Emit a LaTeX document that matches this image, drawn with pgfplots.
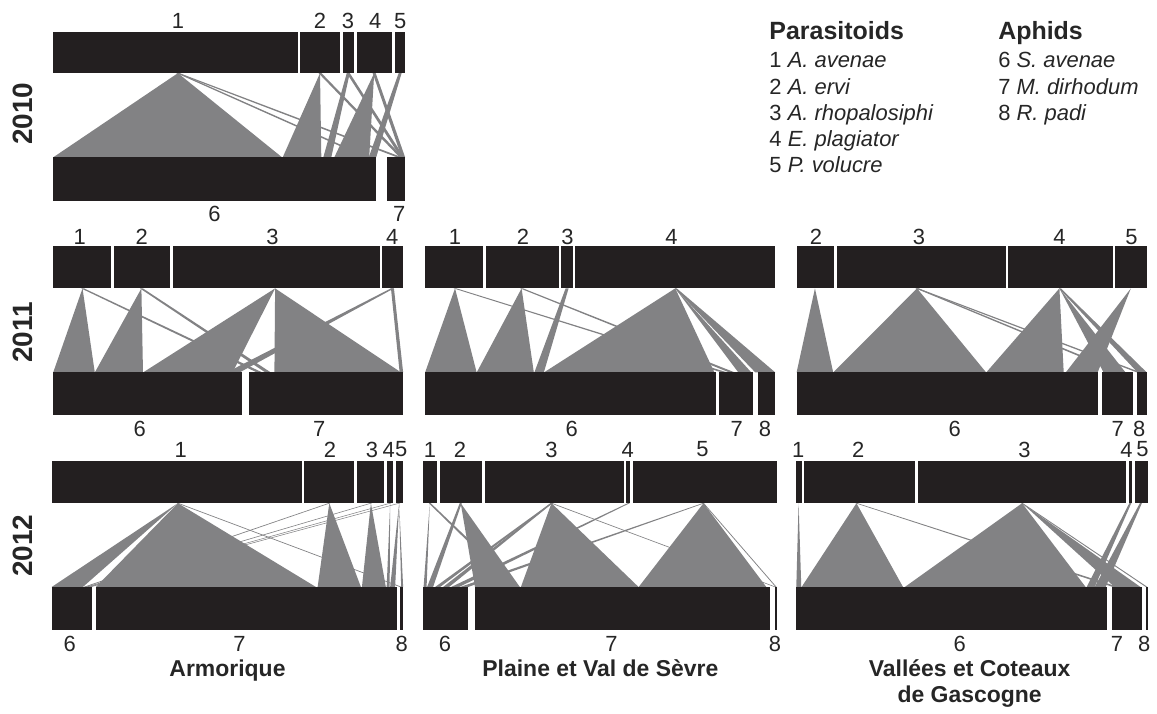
\documentclass[border=0pt]{standalone}
\usepackage{pgfplots}
\pgfplotsset{compat=1.18}
\usepackage{fontspec}
\setmainfont{Liberation Sans}
\definecolor{barc}{RGB}{35,31,32}
\definecolor{linkc}{RGB}{130,130,132}
% bars: x1 x2 (rows fixed)
\newcommand{\bA}[2]{\addplot[fill=barc,draw=none] coordinates {(#1,31.7) (#2,31.7) (#2,73.3) (#1,73.3)};}
\newcommand{\cA}[2]{\addplot[fill=barc,draw=none] coordinates {(#1,157.7) (#2,157.7) (#2,201) (#1,201)};}
\newcommand{\bB}[2]{\addplot[fill=barc,draw=none] coordinates {(#1,246.7) (#2,246.7) (#2,289) (#1,289)};}
\newcommand{\cB}[2]{\addplot[fill=barc,draw=none] coordinates {(#1,373.3) (#2,373.3) (#2,415.7) (#1,415.7)};}
\newcommand{\bC}[2]{\addplot[fill=barc,draw=none] coordinates {(#1,461.7) (#2,461.7) (#2,504.3) (#1,504.3)};}
\newcommand{\cC}[2]{\addplot[fill=barc,draw=none] coordinates {(#1,588.3) (#2,588.3) (#2,631) (#1,631)};}
% links: top x1 x2, bottom x1 x2
\newcommand{\lA}[4]{\addplot[fill=linkc,draw=none] coordinates {(#1,73.3) (#2,73.3) (#4,157.7) (#3,157.7)};}
\newcommand{\lB}[4]{\addplot[fill=linkc,draw=none] coordinates {(#1,289) (#2,289) (#4,373.3) (#3,373.3)};}
\newcommand{\lC}[4]{\addplot[fill=linkc,draw=none] coordinates {(#1,504.3) (#2,504.3) (#4,588.3) (#3,588.3)};}
\newcommand{\lab}[3]{\node[font=\fontsize{11}{13}\selectfont,text=black!85] at (axis cs:#1,#2) {#3};}
\begin{document}
\begin{tikzpicture}
\begin{axis}[x=0.5pt,y=0.5pt,xmin=0,xmax=1157,ymin=0,ymax=711,y dir=reverse,
  hide axis,clip=false,scale only axis]
\path (axis cs:0,0) rectangle (axis cs:1157,711);
% ===== 2010 Armorique =====
\lA{178.3}{178.3}{53.3}{282.7}
\lA{176.8}{179.8}{398}{403}
\lA{176.8}{179.8}{366}{370}
\lA{320.7}{320.7}{283.3}{322}
\lA{319.2}{322.2}{400.5}{404}
\lA{347.5}{350.5}{324}{332}
\lA{347.5}{350.5}{401.5}{405}
\lA{375}{375}{335}{370}
\lA{373.5}{376.5}{402.5}{406}
\lA{399.5}{402.5}{369.5}{377}
\bA{53.3}{298.3} \bA{301}{340.7} \bA{343.3}{354.3} \bA{357.3}{393.3} \bA{396}{406}
\cA{53.3}{376.7} \cA{387.7}{406}
% ===== 2011 Armorique =====
\lB{82.7}{82.7}{53.3}{95}
\lB{81.2}{84.2}{257.5}{263}
\lB{141.7}{141.7}{95}{143.3}
\lB{140.2}{143.2}{266}{271.5}
\lB{275.7}{275.7}{143.3}{233}
\lB{275.7}{275.7}{275}{402}
\lB{391.8}{394.8}{227}{240}
\lB{391.8}{394.8}{400.5}{404}
\bB{53.3}{111} \bB{114.3}{170} \bB{173.3}{380.7} \bB{383.3}{404}
\cB{53.3}{242.3} \cB{250}{404}
% ===== 2011 Plaine =====
\lB{456}{456}{426}{477.7}
\lB{454.5}{457.5}{723.5}{729}
\lB{522.7}{522.7}{477.7}{535}
\lB{521.2}{524.2}{731}{736.5}
\lB{566.8}{569.8}{535.5}{545}
\lB{676.7}{676.7}{545}{716}
\lB{676.7}{676.7}{740}{753}
\lB{676.2}{678.2}{757}{777}
\bB{426}{484} \bB{486.7}{560} \bB{562.7}{574} \bB{576.7}{776.7}
\cB{426}{717.3} \cB{721}{755} \cB{759.3}{776.7}
% ===== 2011 Vallees =====
\lB{816.7}{816.7}{798.3}{835}
\lB{919}{919}{835}{988.3}
\lB{917.5}{920.5}{1120.5}{1125}
\lB{917.5}{920.5}{1139.5}{1143.5}
\lB{1061.7}{1061.7}{988.3}{1066}
\lB{1061.7}{1061.7}{1106}{1128}
\lB{1061.2}{1063.2}{1140}{1149.3}
\lB{1133.3}{1133.3}{1068}{1100}
\bB{798.3}{835.7} \bB{838.3}{1007.7} \bB{1010}{1115} \bB{1117.7}{1149.3}
\cB{798.3}{1100.7} \cB{1104.3}{1135.7} \cB{1139.3}{1149.3}
% ===== 2012 Armorique =====
\lC{178.3}{178.3}{51.7}{83}
\lC{178.3}{178.3}{96}{316.7}
\lC{177.3}{179.3}{401}{403}
\lC{329}{331}{83.5}{86}
\lC{330}{330}{318.3}{361.7}
\lC{370.7}{372.7}{85.5}{88}
\lC{371.7}{371.7}{362.7}{386.7}
\lC{390}{392}{87.5}{89.5}
\lC{391}{391}{387.5}{390.5}
\lC{399}{401}{89}{91.2}
\lC{400}{400}{391}{396}
\lC{400}{400}{402}{404}
\bC{51.7}{302.3} \bC{305}{355} \bC{357.7}{385} \bC{387.7}{394.3} \bC{396.7}{404}
\cC{51.7}{91.7} \cC{96}{397.7} \cC{401}{404}
% ===== 2012 Plaine =====
\lC{430.7}{430.7}{424.5}{427.5}
\lC{429.7}{431.7}{515.5}{520}
\lC{460.7}{462.7}{428}{434}
\lC{461.7}{461.7}{476}{521}
\lC{551.7}{553.7}{436}{441}
\lC{551.7}{553.7}{444}{450}
\lC{552.7}{552.7}{522}{640}
\lC{551.7}{553.7}{776.3}{778}
\lC{629}{631}{452}{460}
\lC{704}{706}{461}{469}
\lC{705}{705}{640}{768}
\lC{704.5}{705.5}{777.3}{778.3}
\bC{424.3}{437.7} \bC{440.7}{483.3} \bC{486}{625} \bC{627.3}{631.7} \bC{634.3}{778.3}
\cC{424.3}{469.3} \cC{475.7}{771.7} \cC{776.7}{778.3}
% ===== 2012 Vallees =====
\lC{800.3}{800.3}{798}{803}
\lC{858.3}{858.3}{803.3}{905}
\lC{857.3}{859.3}{1115.5}{1121}
\lC{1024.3}{1024.3}{906.7}{1088}
\lC{1024.3}{1024.3}{1117}{1143}
\lC{1023.5}{1025.1}{1148.3}{1150}
\lC{1131.7}{1133.7}{1089}{1097}
\lC{1142.3}{1144.3}{1097}{1108}
\bC{797.3}{803.3} \bC{806}{917.3} \bC{920}{1128.3} \bC{1131}{1134.3} \bC{1137.3}{1150}
\cC{797.3}{1109.3} \cC{1114.3}{1144.3} \cC{1148.3}{1150}
% ===== labels =====
\lab{178.3}{21}{1}\lab{320.7}{21}{2}\lab{348.7}{21}{3}\lab{376}{21}{4}\lab{401}{21}{5}
\lab{215}{214.5}{6}\lab{400}{214.5}{7}
\lab{80}{237.5}{1}\lab{142}{237.5}{2}\lab{273}{237.5}{3}\lab{393}{237.5}{4}
\lab{456}{237.5}{1}\lab{524}{237.5}{2}\lab{568.7}{237.5}{3}\lab{673}{237.5}{4}
\lab{817.7}{237.5}{2}\lab{921}{237.5}{3}\lab{1061.7}{237.5}{4}\lab{1134}{237.5}{5}
\lab{140}{429.5}{6}\lab{320}{429.5}{7}
\lab{573}{429.5}{6}\lab{738.3}{429.5}{7}\lab{766.7}{429.5}{8}
\lab{956.7}{429.5}{6}\lab{1120}{429.5}{7}\lab{1141.7}{429.5}{8}
\lab{181}{450.5}{1}\lab{330.7}{450.5}{2}\lab{372.7}{450.5}{3}\lab{389.5}{450.5}{4}\lab{402}{450.5}{5}
\lab{431}{450.5}{1}\lab{461}{450.5}{2}\lab{552.7}{450.5}{3}\lab{629}{450.5}{4}\lab{704}{450.5}{5}
\lab{800}{450.5}{1}\lab{860}{450.5}{2}\lab{1026.7}{450.5}{3}\lab{1129}{450.5}{4}\lab{1145}{450.5}{5}
\lab{70}{645.5}{6}\lab{240}{645.5}{7}\lab{402.7}{645.5}{8}
\lab{446}{645.5}{6}\lab{612.7}{645.5}{7}\lab{776.7}{645.5}{8}
\lab{961.7}{645.5}{6}\lab{1119.3}{645.5}{7}\lab{1146.7}{645.5}{8}
% years
\node[rotate=90,font=\fontsize{14}{16}\selectfont\bfseries,text=black!85] at (axis cs:23,114) {2010};
\node[rotate=90,font=\fontsize{14}{16}\selectfont\bfseries,text=black!85] at (axis cs:23,333) {2011};
\node[rotate=90,font=\fontsize{14}{16}\selectfont\bfseries,text=black!85] at (axis cs:23,547) {2012};
% sites
\node[anchor=base,font=\fontsize{11.5}{13}\selectfont\bfseries,text=black!85] at (axis cs:228,678.3) {Armorique};
\node[anchor=base,font=\fontsize{11.5}{13}\selectfont\bfseries,text=black!85] at (axis cs:601.7,678.3) {Plaine et Val de Sèvre};
\node[anchor=base,font=\fontsize{11.5}{13}\selectfont\bfseries,text=black!85] at (axis cs:971.7,678.3) {Vallées et Coteaux};
\node[anchor=base,font=\fontsize{11.5}{13}\selectfont\bfseries,text=black!85] at (axis cs:971.7,704) {de Gascogne};
% legend
\node[anchor=base west,inner sep=0pt,font=\fontsize{12.5}{14}\selectfont\bfseries,text=black!85] at (axis cs:770.7,39.3) {Parasitoids};
\node[anchor=base west,inner sep=0pt,font=\fontsize{11}{13}\selectfont,text=black!85] at (axis cs:770.7,67.7) {1 \textit{A. avenae}};
\node[anchor=base west,inner sep=0pt,font=\fontsize{11}{13}\selectfont,text=black!85] at (axis cs:770.7,94.3) {2 \textit{A. ervi}};
\node[anchor=base west,inner sep=0pt,font=\fontsize{11}{13}\selectfont,text=black!85] at (axis cs:770.7,120.7) {3 \textit{A. rhopalosiphi}};
\node[anchor=base west,inner sep=0pt,font=\fontsize{11}{13}\selectfont,text=black!85] at (axis cs:770.7,147) {4 \textit{E. plagiator}};
\node[anchor=base west,inner sep=0pt,font=\fontsize{11}{13}\selectfont,text=black!85] at (axis cs:770.7,173.3) {5 \textit{P. volucre}};
\node[anchor=base west,inner sep=0pt,font=\fontsize{12.5}{14}\selectfont\bfseries,text=black!85] at (axis cs:1000,39.3) {Aphids};
\node[anchor=base west,inner sep=0pt,font=\fontsize{11}{13}\selectfont,text=black!85] at (axis cs:1000,67.7) {6 \textit{S. avenae}};
\node[anchor=base west,inner sep=0pt,font=\fontsize{11}{13}\selectfont,text=black!85] at (axis cs:1000,94.3) {7 \textit{M. dirhodum}};
\node[anchor=base west,inner sep=0pt,font=\fontsize{11}{13}\selectfont,text=black!85] at (axis cs:1000,120.7) {8 \textit{R. padi}};
\end{axis}
\end{tikzpicture}
\end{document}
